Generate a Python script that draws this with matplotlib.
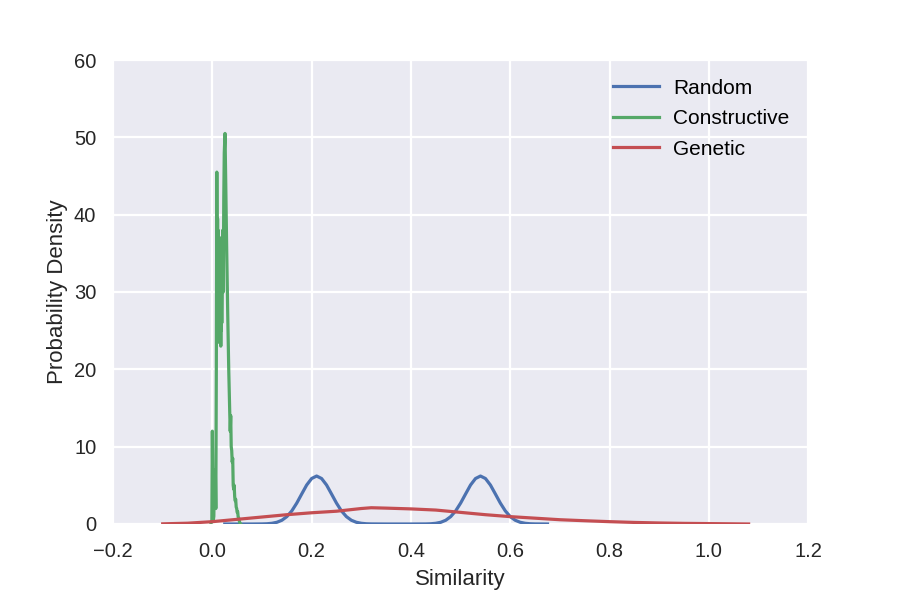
import matplotlib
matplotlib.use("Agg")
import matplotlib.pyplot as plt

# values
random_x = [0.025, 0.05, 0.08, 0.10, 0.11, 0.12, 0.13, 0.14, 0.15, 0.16, 0.17, 0.18, 0.19,
            0.20, 0.21, 0.22, 0.23, 0.24, 0.25, 0.26, 0.27, 0.28, 0.29, 0.30, 0.31, 0.32,
            0.35, 0.40, 0.43, 0.44, 0.45, 0.46, 0.47, 0.48, 0.49, 0.50, 0.51, 0.52, 0.53,
            0.54, 0.55, 0.56, 0.57, 0.58, 0.59, 0.60, 0.61, 0.62, 0.63, 0.64, 0.65, 0.675]
random_y = [0.0, 0.0, 0.0, 0.01, 0.03, 0.09, 0.22, 0.48, 0.95, 1.69, 2.70, 3.88, 5.04,
            5.88, 6.20, 5.88, 5.04, 3.88, 2.70, 1.69, 0.95, 0.48, 0.22, 0.09, 0.03, 0.01,
            0.0, 0.0, 0.01, 0.03, 0.09, 0.22, 0.48, 0.95, 1.69, 2.70, 3.88, 5.04, 5.88,
            6.20, 5.88, 5.04, 3.88, 2.70, 1.69, 0.95, 0.48, 0.22, 0.09, 0.03, 0.01, 0.0]

constructive_x = [-0.003, -0.001, 0.000, 0.001, 0.002, 0.003, 0.004, 0.005, 0.006, 0.007,
                  0.008, 0.009, 0.010, 0.0105, 0.011, 0.0115, 0.012, 0.0125, 0.013, 0.0135,
                  0.014, 0.0145, 0.015, 0.0155, 0.016, 0.0165, 0.017, 0.0175, 0.018, 0.0185,
                  0.019, 0.020, 0.021, 0.022, 0.023, 0.024, 0.0255, 0.027, 0.029, 0.031,
                  0.033, 0.035, 0.036, 0.037, 0.038, 0.039, 0.040, 0.041, 0.042, 0.043,
                  0.044, 0.045, 0.046, 0.047, 0.048, 0.049, 0.050, 0.051, 0.052, 0.053,
                  0.054, 0.055, 0.057]
constructive_y = [0.0, 0.5, 12.0, 4.0, 0.5, 1.0, 6.0, 3.0, 7.0, 2.0,
                  20.0, 45.5, 30.0, 39.5, 24.0, 38.0, 27.0, 36.5, 23.5, 35.0,
                  25.0, 33.0, 26.0, 37.0, 24.0, 34.0, 23.0, 31.0, 25.0, 30.0,
                  26.0, 35.0, 38.0, 30.0, 42.0, 48.0, 50.5, 44.0, 35.0, 27.0,
                  20.0, 14.5, 12.0, 14.0, 10.0, 9.5, 8.0, 8.5, 5.0, 4.5,
                  5.0, 3.5, 3.0, 3.2, 2.2, 2.0, 1.5, 1.6, 0.9, 0.8,
                  0.5, 0.2, 0.0]

genetic_x = [-0.10, -0.05, 0.00, 0.05, 0.10, 0.15, 0.20, 0.25, 0.30, 0.32, 0.35, 0.40,
             0.45, 0.50, 0.55, 0.60, 0.65, 0.70, 0.75, 0.80, 0.85, 0.90, 0.95, 1.00,
             1.05, 1.08]
genetic_y = [0.02, 0.1, 0.3, 0.6, 0.9, 1.2, 1.45, 1.65, 2.0, 2.1, 2.05, 1.95,
             1.8, 1.5, 1.2, 0.95, 0.75, 0.55, 0.42, 0.3, 0.2, 0.13, 0.08, 0.05,
             0.02, 0.0]

xticks = [-0.2, 0.0, 0.2, 0.4, 0.6, 0.8, 1.0, 1.2]
yticks = [0, 10, 20, 30, 40, 50, 60]

plt.rcParams['font.family'] = ['Liberation Sans', 'DejaVu Sans']
plt.rcParams['axes.unicode_minus'] = True

fig = plt.figure(figsize=(9, 6), dpi=100)
ax = fig.add_axes([0.1256, 0.1267, 0.7724, 0.7733])
ax.set_facecolor('#EAEAF2')
for s in ax.spines.values():
    s.set_visible(False)
ax.grid(True, color='white', linewidth=1.6)
ax.set_axisbelow(True)

ax.plot(random_x, random_y, color='#4C72B0', linewidth=2.3, label='Random')
ax.plot(constructive_x, constructive_y, color='#55A868', linewidth=2.3, label='Constructive')
ax.plot(genetic_x, genetic_y, color='#C44E52', linewidth=2.3, label='Genetic')

ax.set_xlim(-0.2, 1.2)
ax.set_ylim(0, 60)
ax.set_xticks(xticks)
ax.set_yticks(yticks)
ax.tick_params(axis='y', length=0, labelsize=14.5, colors='#262626', pad=12)
ax.tick_params(axis='x', length=0, labelsize=14.5, colors='#262626', pad=13)
ax.set_xlabel('Similarity', fontsize=16, color='#262626', labelpad=6)
ax.set_ylabel('Probability Density', fontsize=16, color='#262626', labelpad=4)

ax.legend(loc='upper right', frameon=False, fontsize=15, handlelength=2.2,
          handletextpad=0.7, labelspacing=0.55, borderaxespad=0.5)

fig.savefig('out.png', dpi=100)
